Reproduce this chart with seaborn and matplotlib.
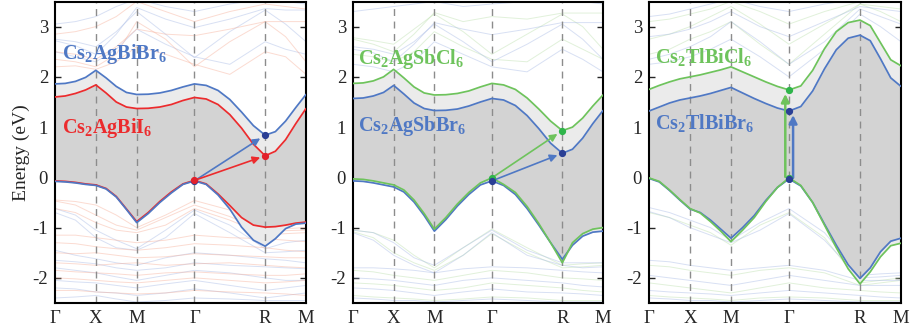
import numpy as np
import matplotlib
matplotlib.use("Agg")
import matplotlib.pyplot as plt
import seaborn as sns

# ---------------- data ----------------
K_NODES = [0.0, 0.5, 1.0, 1.707, 2.573, 3.073]
K_LABELS = ["Γ", "X", "M", "Γ", "R", "M"]

K_PATH = [0.0, 0.125, 0.25, 0.375, 0.5, 0.625, 0.75, 0.875, 1.0,
          1.141, 1.283, 1.424, 1.566, 1.707,
          1.851, 1.996, 2.140, 2.284, 2.429, 2.573,
          2.698, 2.823, 2.948, 3.073]
K_COARSE = [0.0, 0.25, 0.5, 0.75, 1.0, 1.354, 1.707, 2.140, 2.573, 2.823, 3.073]

# Panel 1 : Cs2AgBiBr6 (blue) / Cs2AgBiI6 (red)
P1_BR_CB = [1.86, 1.87, 1.91, 1.99, 2.13, 1.98, 1.81, 1.69, 1.65,
            1.655, 1.68, 1.73, 1.80, 1.86,
            1.83, 1.73, 1.55, 1.30, 1.03, 0.84,
            0.91, 1.12, 1.39, 1.65]
P1_BR_VB = [-0.08, -0.09, -0.11, -0.14, -0.16, -0.23, -0.39, -0.64, -0.90,
            -0.72, -0.50, -0.31, -0.14, -0.07,
            -0.14, -0.35, -0.63, -0.99, -1.25, -1.37,
            -1.22, -1.02, -0.93, -0.91]
P1_I_CB = [1.60, 1.62, 1.67, 1.74, 1.84, 1.68, 1.50, 1.40, 1.37,
           1.375, 1.40, 1.45, 1.53, 1.59,
           1.56, 1.45, 1.25, 0.98, 0.66, 0.43,
           0.52, 0.75, 1.07, 1.37]
P1_I_VB = [-0.07, -0.08, -0.10, -0.13, -0.15, -0.22, -0.38, -0.63, -0.88,
           -0.70, -0.48, -0.29, -0.13, -0.06,
           -0.13, -0.33, -0.56, -0.80, -0.95, -0.99,
           -0.98, -0.95, -0.91, -0.89]
P1_BR_FAINT = [
    [2.72, 2.62, 2.45, 2.85, 3.38, 3.15, 2.98, 3.15, 3.36, 3.33, 3.33],
    [2.75, 2.70, 2.60, 2.90, 3.30, 2.85, 2.38, 2.90, 3.33, 3.05, 2.70],
    [2.50, 2.40, 2.30, 2.55, 2.95, 2.65, 2.40, 2.25, 2.70, 2.55, 2.45],
    [3.05, 3.10, 3.20, 3.40, 3.55, 3.40, 3.30, 3.45, 3.55, 3.50, 3.45],
    [-0.62, -0.75, -1.05, -1.25, -1.42, -1.05, -0.65, -0.95, -1.42, -1.30, -1.25],
    [-0.70, -0.85, -1.20, -1.40, -1.45, -1.20, -0.72, -1.10, -1.50, -1.48, -1.45],
    [-1.45, -1.55, -1.62, -1.70, -1.75, -1.60, -1.50, -1.55, -1.62, -1.65, -1.70],
    [-1.65, -1.68, -1.72, -1.80, -1.85, -1.80, -1.70, -1.75, -1.78, -1.80, -1.82],
    [-1.80, -1.85, -1.90, -1.98, -2.05, -1.95, -1.85, -1.90, -2.00, -2.05, -2.05],
    [-2.05, -2.08, -2.10, -2.15, -2.20, -2.12, -2.05, -2.15, -2.25, -2.20, -2.15],
    [-2.20, -2.22, -2.28, -2.30, -2.35, -2.30, -2.22, -2.30, -2.40, -2.35, -2.30],
    [-2.40, -2.38, -2.35, -2.42, -2.48, -2.45, -2.40, -2.42, -2.45, -2.45, -2.45],
]
P1_I_FAINT = [
    [2.35, 2.30, 2.20, 2.45, 3.10, 2.75, 2.20, 2.70, 3.10, 3.10, 3.10],
    [2.50, 2.45, 2.35, 2.60, 2.95, 2.85, 2.82, 2.95, 3.10, 2.80, 2.30],
    [2.20, 2.22, 2.15, 2.30, 2.60, 2.45, 2.25, 2.05, 2.50, 2.40, 2.05],
    [2.85, 2.90, 3.00, 3.20, 3.50, 3.30, 3.10, 3.30, 3.45, 3.40, 3.35],
    [-0.45, -0.48, -0.55, -0.75, -1.00, -0.75, -0.46, -0.65, -1.05, -1.02, -1.00],
    [-0.47, -0.55, -0.75, -0.95, -1.05, -0.80, -0.55, -0.78, -1.08, -1.06, -1.05],
    [-0.62, -0.70, -0.90, -1.05, -1.10, -0.95, -0.62, -0.85, -1.15, -1.12, -1.10],
    [-1.15, -1.15, -1.20, -1.25, -1.30, -1.25, -1.15, -1.20, -1.22, -1.25, -1.28],
    [-1.30, -1.32, -1.38, -1.42, -1.45, -1.40, -1.32, -1.35, -1.40, -1.45, -1.48],
    [-1.50, -1.52, -1.50, -1.55, -1.60, -1.58, -1.52, -1.55, -1.58, -1.60, -1.60],
    [-1.70, -1.72, -1.75, -1.72, -1.70, -1.75, -1.72, -1.70, -1.75, -1.78, -1.80],
    [-1.85, -1.88, -1.90, -1.92, -1.95, -1.90, -1.88, -1.92, -1.95, -1.95, -1.92],
    [-2.00, -2.02, -2.05, -2.08, -2.10, -2.05, -2.00, -2.05, -2.10, -2.08, -2.05],
    [-2.25, -2.25, -2.28, -2.30, -2.32, -2.30, -2.25, -2.28, -2.30, -2.32, -2.35],
]

# Panel 2 : Cs2AgSbCl6 (green) / Cs2AgSbBr6 (blue)
P2_CL_CB = [1.87, 1.88, 1.92, 2.00, 2.15, 1.98, 1.80, 1.68, 1.64,
            1.645, 1.67, 1.72, 1.80, 1.87,
            1.84, 1.75, 1.58, 1.36, 1.12, 0.93,
            1.00, 1.18, 1.42, 1.64]
P2_CL_VB = [-0.03, -0.04, -0.07, -0.11, -0.15, -0.25, -0.45, -0.72, -1.03,
            -0.80, -0.53, -0.30, -0.11, -0.01,
            -0.14, -0.30, -0.58, -0.92, -1.30, -1.70,
            -1.30, -1.12, -1.03, -1.00]
P2_BR_CB = [1.57, 1.58, 1.62, 1.69, 1.83, 1.66, 1.48, 1.37, 1.33,
            1.335, 1.36, 1.42, 1.50, 1.57,
            1.54, 1.43, 1.23, 0.97, 0.68, 0.48,
            0.56, 0.78, 1.07, 1.33]
P2_BR_VB = [-0.07, -0.08, -0.11, -0.15, -0.19, -0.29, -0.49, -0.76, -1.07,
            -0.84, -0.57, -0.34, -0.15, -0.07,
            -0.16, -0.34, -0.62, -0.95, -1.30, -1.63,
            -1.35, -1.17, -1.09, -1.07]
P2_CL_FAINT = [
    [2.75, 2.65, 2.50, 2.85, 3.28, 3.10, 3.20, 3.15, 3.27, 3.27, 3.27],
    [2.78, 2.72, 2.65, 2.95, 3.25, 2.90, 2.45, 2.85, 3.25, 3.00, 2.55],
    [2.45, 2.40, 2.30, 2.50, 2.90, 2.60, 2.35, 2.30, 2.75, 2.55, 2.35],
    [-1.05, -1.10, -1.25, -1.55, -1.80, -1.40, -1.03, -1.40, -1.75, -1.72, -1.70],
    [-1.08, -1.20, -1.50, -1.70, -1.85, -1.55, -1.12, -1.50, -1.80, -1.78, -1.75],
    [-1.85, -1.88, -1.95, -2.00, -2.05, -1.95, -1.85, -1.90, -2.00, -2.02, -2.05],
    [-2.10, -2.12, -2.15, -2.20, -2.25, -2.20, -2.10, -2.15, -2.20, -2.25, -2.28],
    [-2.35, -2.38, -2.40, -2.42, -2.45, -2.42, -2.38, -2.40, -2.45, -2.45, -2.45],
]
P2_BR_FAINT = [
    [2.55, 2.48, 2.30, 2.65, 3.08, 2.95, 2.84, 2.95, 3.08, 3.08, 3.08],
    [2.60, 2.55, 2.45, 2.70, 3.05, 2.70, 2.30, 2.65, 3.05, 2.75, 2.35],
    [2.25, 2.20, 2.10, 2.30, 2.70, 2.45, 2.20, 2.10, 2.55, 2.35, 2.10],
    [3.30, 3.35, 3.40, 3.45, 3.50, 3.40, 3.45, 3.50, 3.55, 3.50, 3.45],
    [-1.05, -1.10, -1.30, -1.60, -1.75, -1.40, -1.05, -1.45, -1.70, -1.70, -1.70],
    [-1.10, -1.25, -1.55, -1.75, -1.90, -1.55, -1.10, -1.55, -1.75, -1.80, -1.78],
    [-1.80, -1.80, -1.82, -1.85, -1.90, -1.82, -1.78, -1.80, -1.85, -1.88, -1.90],
    [-2.00, -2.02, -2.05, -2.10, -2.15, -2.05, -2.00, -2.05, -2.10, -2.15, -2.18],
    [-2.20, -2.22, -2.25, -2.30, -2.35, -2.28, -2.22, -2.28, -2.30, -2.32, -2.35],
    [-2.40, -2.42, -2.45, -2.45, -2.48, -2.45, -2.42, -2.45, -2.48, -2.48, -2.48],
]

# Panel 3 : Cs2TlBiCl6 (green) / Cs2TlBiBr6 (blue)
P3_CL_CB = [1.75, 1.83, 1.90, 1.96, 2.00, 2.04, 2.09, 2.14, 2.20,
            2.10, 2.00, 1.90, 1.81, 1.74,
            1.82, 2.13, 2.56, 2.90, 3.08, 3.13,
            3.02, 2.68, 2.34, 2.22]
P3_CL_VB = [-0.01, -0.08, -0.25, -0.44, -0.62, -0.71, -0.88, -1.07, -1.28,
            -1.05, -0.80, -0.48, -0.20, -0.01,
            -0.16, -0.50, -0.95, -1.40, -1.82, -2.12,
            -1.88, -1.58, -1.36, -1.31]
P3_BR_CB = [1.32, 1.40, 1.48, 1.54, 1.58, 1.62, 1.67, 1.73, 1.79,
            1.68, 1.57, 1.47, 1.38, 1.32,
            1.41, 1.72, 2.16, 2.54, 2.77, 2.83,
            2.72, 2.36, 1.98, 1.81]
P3_BR_VB = [-0.02, -0.09, -0.26, -0.45, -0.63, -0.70, -0.85, -1.03, -1.21,
            -1.00, -0.76, -0.46, -0.20, -0.03,
            -0.17, -0.50, -0.93, -1.35, -1.74, -2.01,
            -1.80, -1.48, -1.27, -1.21]
P3_CL_FAINT = [
    [2.75, 2.85, 3.00, 3.20, 3.40, 3.05, 2.65, 3.05, 3.45, 3.40, 3.35],
    [2.45, 2.55, 2.75, 2.90, 3.10, 2.65, 2.25, 2.85, 3.45, 3.30, 3.10],
    [3.10, 3.15, 3.25, 3.35, 3.50, 3.30, 3.05, 3.30, 3.50, 3.50, 3.50],
    [-0.70, -0.80, -0.95, -1.10, -1.35, -0.95, -0.70, -1.20, -2.10, -2.05, -2.00],
    [-1.75, -1.78, -1.85, -1.90, -1.95, -1.85, -1.80, -1.90, -2.15, -2.10, -2.05],
    [-2.10, -2.15, -2.20, -2.25, -2.30, -2.20, -2.10, -2.20, -2.25, -2.28, -2.30],
    [-2.35, -2.38, -2.40, -2.42, -2.45, -2.40, -2.38, -2.40, -2.45, -2.45, -2.45],
]
P3_BR_FAINT = [
    [2.35, 2.45, 2.60, 2.80, 3.10, 2.70, 2.25, 2.70, 3.35, 3.20, 3.05],
    [2.25, 2.30, 2.40, 2.55, 2.75, 2.40, 2.00, 2.55, 3.25, 3.00, 2.70],
    [2.80, 2.85, 2.95, 3.10, 3.30, 3.00, 2.80, 3.10, 3.40, 3.35, 3.30],
    [3.20, 3.25, 3.35, 3.45, 3.55, 3.40, 3.30, 3.45, 3.55, 3.50, 3.50],
    [-0.60, -0.70, -0.85, -1.00, -1.25, -0.90, -0.62, -1.10, -1.95, -1.92, -1.90],
    [-0.68, -0.80, -1.00, -1.15, -1.30, -1.05, -0.72, -1.25, -2.00, -1.98, -1.95],
    [-1.65, -1.68, -1.75, -1.80, -1.85, -1.80, -1.75, -1.85, -2.05, -2.05, -2.05],
    [-1.95, -2.00, -2.05, -2.10, -2.15, -2.05, -1.95, -2.05, -2.15, -2.15, -2.15],
    [-2.25, -2.28, -2.30, -2.32, -2.35, -2.30, -2.25, -2.30, -2.35, -2.38, -2.40],
    [-2.40, -2.42, -2.45, -2.45, -2.48, -2.45, -2.42, -2.45, -2.48, -2.48, -2.48],
]

LABELS = {
    "p1": ["Cs$_2$AgBiBr$_6$", "Cs$_2$AgBiI$_6$"],
    "p2": ["Cs$_2$AgSbCl$_6$", "Cs$_2$AgSbBr$_6$"],
    "p3": ["Cs$_2$TlBiCl$_6$", "Cs$_2$TlBiBr$_6$"],
}

# ---------------- style ----------------
BLUE, BLUE_F, BLUE_D = "#4f78c4", "#a9bbe6", "#2a3f95"
RED, RED_F, RED_D = "#ec2b2d", "#f7b09a", "#e2202a"
GREEN, GREEN_F, GREEN_D = "#6ec35c", "#bde0ae", "#2fb54b"
SERIF = ["Liberation Serif", "DejaVu Serif"]

sns.set_style("ticks")
plt.rcParams.update({
    "font.family": SERIF,
    "mathtext.fontset": "custom",
    "mathtext.rm": "Liberation Serif:bold",
    "mathtext.bf": "Liberation Serif:bold",
    "mathtext.it": "Liberation Serif:bold",
    "mathtext.default": "rm",
    "axes.unicode_minus": False,
})

fig = plt.figure(figsize=(9.11, 3.31), dpi=100)
W, H = 911.0, 331.0
ax_px = [(55, 251), (353, 250), (649, 252)]
axes = [fig.add_axes([l / W, 1 - 303 / H, w / W, 301.5 / H]) for l, w in ax_px]

panels = [
    dict(comps=[(LABELS["p1"][0], P1_BR_CB, P1_BR_VB, P1_BR_FAINT, BLUE, BLUE_F, BLUE_D, (0.086, 2.35)),
                (LABELS["p1"][1], P1_I_CB, P1_I_VB, P1_I_FAINT, RED, RED_F, RED_D, (0.086, 0.89))],
         direct=False),
    dict(comps=[(LABELS["p2"][0], P2_CL_CB, P2_CL_VB, P2_CL_FAINT, GREEN, GREEN_F, GREEN_D, (0.065, 2.25)),
                (LABELS["p2"][1], P2_BR_CB, P2_BR_VB, P2_BR_FAINT, BLUE, BLUE_F, BLUE_D, (0.065, 0.93))],
         direct=False),
    dict(comps=[(LABELS["p3"][0], P3_CL_CB, P3_CL_VB, P3_CL_FAINT, GREEN, GREEN_F, GREEN_D, (0.073, 2.27)),
                (LABELS["p3"][1], P3_BR_CB, P3_BR_VB, P3_BR_FAINT, BLUE, BLUE_F, BLUE_D, (0.073, 0.96))],
         direct=True),
]

K = np.array(K_PATH)
KC = np.array(K_COARSE)
iG = K_PATH.index(1.707)
iR = K_PATH.index(2.573)

for pi, (ax, p) in enumerate(zip(axes, panels)):
    comps = p["comps"]
    # faint background bands
    for c in comps:
        for band in c[3]:
            sns.lineplot(x=KC, y=band, ax=ax, color=c[5], lw=0.7, alpha=0.45,
                         estimator=None, sort=False, legend=False, zorder=1)
    cb = [np.array(c[1]) for c in comps]
    vb = [np.array(c[2]) for c in comps]
    ax.fill_between(K, np.minimum(vb[0], vb[1]), np.maximum(cb[0], cb[1]),
                    color="#ebebeb", lw=0, zorder=2)
    ax.fill_between(K, np.maximum(vb[0], vb[1]), np.minimum(cb[0], cb[1]),
                    color="#d3d3d3", lw=0, zorder=2.1)
    for kx in K_NODES[1:-1]:
        ax.axvline(kx, color="#8c8c8c", lw=1.0, ls=(0, (5, 4)), zorder=2.5)
    for c in comps[::-1]:
        sns.lineplot(x=K, y=c[1], ax=ax, color=c[4], lw=1.25, estimator=None,
                     sort=False, legend=False, zorder=3)
        sns.lineplot(x=K, y=c[2], ax=ax, color=c[4], lw=1.25, estimator=None,
                     sort=False, legend=False, zorder=3)
    # arrows and dots
    if not p["direct"]:
        for c in comps:
            x0, y0 = K[iG], c[2][iG]
            x1, y1 = K[iR], c[1][iR]
            ex, ey = x0 + 0.93 * (x1 - x0), y0 + 0.93 * (y1 - y0)
            ax.annotate("", xy=(ex, ey), xytext=(x0, y0),
                        arrowprops=dict(arrowstyle="-|>", color=c[4], lw=1.2,
                                        mutation_scale=11, shrinkA=0, shrinkB=0),
                        zorder=4)
        for c in comps:
            ax.plot([K[iG]], [c[2][iG]], "o", color=c[6], ms=4.2, zorder=5)
            ax.plot([K[iR]], [c[1][iR]], "o", color=c[6], ms=4.2, zorder=5)
    else:
        offs = [-0.045, 0.05]
        for c, o in zip(comps, offs):
            x0 = K[iG] + o
            ax.annotate("", xy=(x0, c[1][iG] - 0.08), xytext=(x0, c[2][iG] + 0.02),
                        arrowprops=dict(arrowstyle="-|>", color=c[4], lw=1.8,
                                        mutation_scale=12, shrinkA=0, shrinkB=0),
                        zorder=4)
        for c in comps:
            ax.plot([K[iG]], [c[2][iG]], "o", color=c[6], ms=4.2, zorder=5)
            ax.plot([K[iG]], [c[1][iG]], "o", color=c[6], ms=4.2, zorder=5)
    # labels
    for c in comps:
        ax.text(c[7][0], c[7][1], c[0], color=c[4], fontsize=14.5,
                fontweight="bold", ha="left", va="baseline", zorder=6)

    ax.set_xlim(0, K_NODES[-1])
    ax.set_ylim(-2.5, 3.5)
    ax.set_xticks(K_NODES)
    ax.set_xticklabels(K_LABELS, fontfamily=SERIF)
    ax.set_yticks([-2, -1, 0, 1, 2, 3])
    ax.set_yticklabels(["-2", "-1", "0", "1", "2", "3"], fontfamily=SERIF)
    ax.tick_params(axis="x", length=0, pad=5, labelsize=13.5)
    ax.tick_params(axis="y", direction="in", length=4, width=1, left=True,
                   right=True, pad=5, labelsize=13.5)
    for s in ax.spines.values():
        s.set_visible(True)
        s.set_linewidth(1.5)
        s.set_color("black")
    ax.set_xlabel("")
    ax.set_ylabel("")

axes[0].set_ylabel("Energy (eV)", fontsize=14, fontfamily=SERIF)
axes[0].yaxis.set_label_coords(-0.10, 0.5)

fig.savefig("out.png", dpi=100)
